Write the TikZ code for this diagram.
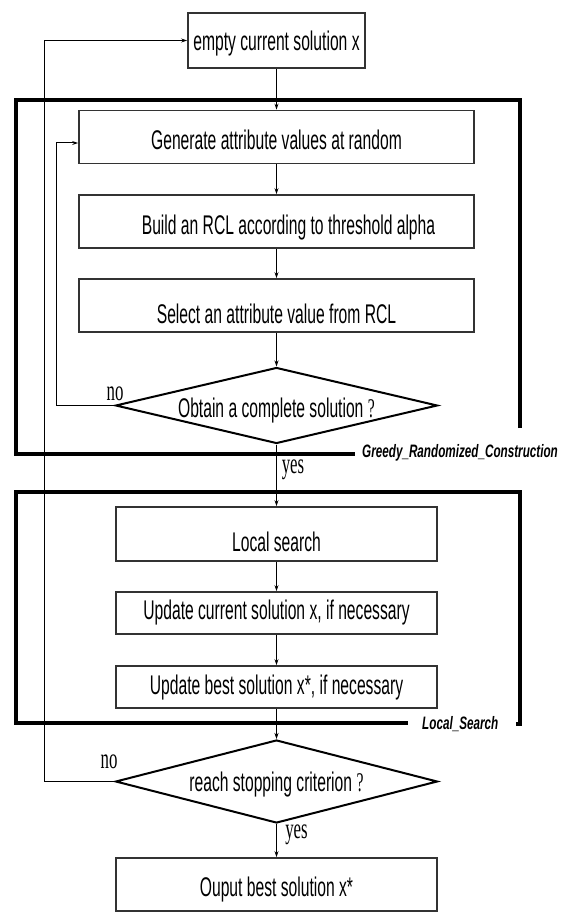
\documentclass[tikz,border=0pt]{standalone}
\usepackage{fontspec}
\usetikzlibrary{shapes.geometric,arrows.meta}
\newfontfamily\boxfont{Liberation Sans}[FakeStretch=0.58]
\newfontfamily\labfont{Liberation Sans}[FakeStretch=0.65]
\newfontfamily\serfont{Liberation Serif}[FakeStretch=0.58]
\begin{document}
\begin{tikzpicture}[x=1pt,y=-1pt,
  procbox/.style={draw=black!80,line width=1.8pt,rectangle,inner sep=0pt,text depth=0pt,
    font=\boxfont\fontsize{27}{29}\selectfont},
  decbox/.style={draw=black,line width=2pt,diamond,inner sep=0pt,aspect=4,text depth=0pt,
    font=\boxfont\fontsize{27}{29}\selectfont},
  arr/.style={line width=1pt,-{Stealth[length=6pt,width=4pt]}},
  frameline/.style={line width=4pt},
  lab/.style={font=\labfont\bfseries\itshape\fontsize{18}{20}\selectfont,inner sep=0pt},
  ser/.style={font=\serfont\fontsize{29}{31}\selectfont,inner sep=0pt}
]
\useasboundingbox (0,0) rectangle (566,912);
% boxes
\node[procbox,minimum width=177pt,minimum height=55pt,text height=19.4pt] (top) at (276.5,40.5) {empty current solution x};
\node[procbox,minimum width=395pt,minimum height=53pt,text height=24.4pt] (gen) at (276.5,137) {Generate attribute values at random};
\node[procbox,minimum width=395pt,minimum height=53pt,text height=26.4pt] (build) at (276.5,221.5) {\hspace*{24pt}Build an RCL according to threshold alpha};
\node[procbox,minimum width=395pt,minimum height=53pt,text height=36.4pt] (sel) at (276.5,305.5) {Select an attribute value from RCL};
\node[decbox,minimum width=322pt,minimum height=76pt,text height=23.4pt] (d1) at (276.5,405.5) {Obtain a complete solution\,{\serfont ?}};
\node[procbox,minimum width=321pt,minimum height=54pt,text height=35.4pt] (ls) at (276.5,534) {Local search};
\node[procbox,minimum width=321pt,minimum height=42pt,text height=13.4pt] (upc) at (276.5,613) {Update current solution x, if necessary};
\node[procbox,minimum width=321pt,minimum height=42pt,text height=15.4pt] (upb) at (276.5,687) {Update best solution x*, if necessary};
\node[decbox,minimum width=322pt,minimum height=83pt,text height=19.4pt] (d2) at (276.5,781.5) {reach stopping criterion\,{\serfont ?}};
\node[procbox,minimum width=321pt,minimum height=53pt,text height=24.4pt] (out) at (276.5,884.5) {Ouput best solution x*};
% frames
\draw[frameline] (520,428) -- (520,100) -- (16,100) -- (16,454) -- (355,454);
\node[lab,anchor=west] (grc) at (362,453) {Greedy\_Randomized\_Construction};
\draw[frameline] (516,724) -- (520,724) -- (520,492) -- (16,492) -- (16,723) -- (408,723);
\node[lab,anchor=west] (lsl) at (422,724) {Local\_Search};
% connectors
\draw[arr] (top) -- (gen);
\draw[arr] (gen) -- (build);
\draw[arr] (build) -- (sel);
\draw[arr] (sel) -- (d1);
\draw[arr] (d1) -- (ls);
\draw[arr] (ls) -- (upc);
\draw[arr] (upc) -- (upb);
\draw[arr] (upb) -- (d2);
\draw[arr] (d2) -- (out);
\draw[arr] (d1.west) -- ++(-58,0) |- ([yshift=-6pt]gen.west);
\draw[arr] (d2.west) -- ++(-70,0) |- (top.west);
% labels
\node[ser] (no1) at (115,394) {no};
\node[ser] (no2) at (109,762) {no};
\node[ser] (yes1) at (293,470) {yes};
\node[ser] (yes2) at (296.5,834.5) {yes};
\end{tikzpicture}
\end{document}
